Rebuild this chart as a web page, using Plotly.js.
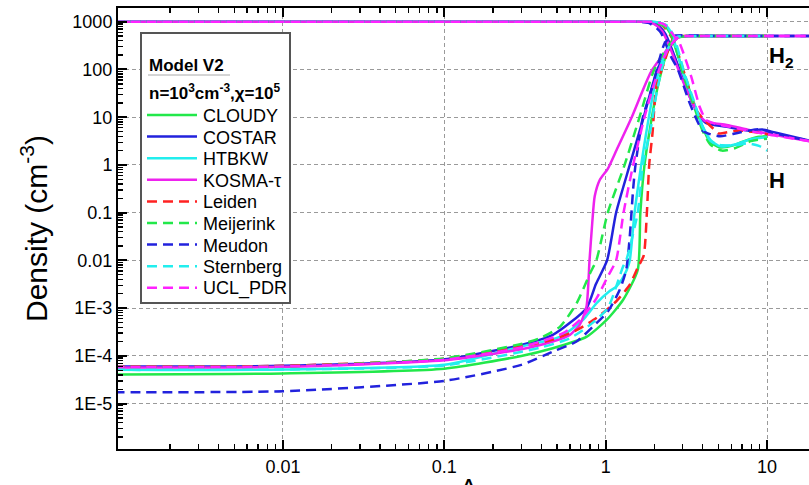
<!DOCTYPE html>
<html>
<head>
<meta charset="utf-8">
<script src="https://cdn.plot.ly/plotly-3.0.1.min.js"></script>
<style>html,body{margin:0;padding:0;overflow:hidden;background:#fff;}#chart{width:830px;height:485px;}</style>
</head>
<body>
<div id="chart"></div>
<script>
// ---------- data (Av in mag, density in cm^-3) ----------
const models = ["CLOUDY","COSTAR","HTBKW","KOSMA-τ","Leiden","Meijerink","Meudon","Sternberg","UCL_PDR"];
const colors = ["#22e84a","#2222dd","#22eeee","#ee22ee","#ff2222","#22e84a","#2222dd","#22eeee","#ff22ff"];
const dashes = ["solid","solid","solid","solid","dash","dash","dash","dash","dash"];

// H2 curves
const cloudyH2Av = [0.0009,0.01,0.1,0.3,0.47,0.76,1.01,1.28,1.58,1.64,1.74,1.86,2.09,2.4,2.75,3.16,5,10];
const cloudyH2n  = [4.1e-5,4.3e-5,5.4e-5,1.0e-4,1.45e-4,2.5e-4,5.6e-4,1.48e-3,6.3e-3,0.1,1,4.57,39.8,224,447,500,500,500];
const costarH2Av = [0.0009,0.01,0.1,0.3,0.47,0.76,0.87,1.02,1.16,1.41,1.72,2.09,2.49,2.82,3.16,5,20];
const costarH2n  = [6.0e-5,6.2e-5,8.5e-5,1.7e-4,2.75e-4,1e-3,3.2e-3,0.01,0.1,1,10,100,302,479,500,500,500];
const htbkwH2Av  = [0.0009,0.01,0.1,0.3,0.52,0.72,0.875,1.05,1.16,1.26,1.35,1.41,1.51,1.66,1.78,2.01,2.38,2.75,3.16,5,10];
const htbkwH2n   = [5.1e-5,5.2e-5,6.5e-5,1.58e-4,2.5e-4,5.6e-4,1.26e-3,2.24e-3,2.8e-3,4.0e-3,6.3e-3,0.01,0.1,1,4.57,43.6,257,479,500,500,500];
const kosmaH2Av  = [0.0009,0.01,0.1,0.3,0.47,0.6,0.69,0.76,0.794,0.826,0.855,0.92,1.03,1.17,1.45,1.91,2.49,2.82,3.16,5,20];
const kosmaH2n   = [5.75e-5,5.9e-5,8.1e-5,1.38e-4,2.0e-4,2.75e-4,4.47e-4,1.07e-3,0.01,0.063,0.22,0.49,0.83,2.09,10,89,302,468,500,500,500];
const leidenH2Av = [0.0009,0.01,0.1,0.3,0.47,0.66,0.875,1.16,1.41,1.58,1.72,1.8,1.86,1.95,2.06,2.26,2.67,3.16,5,10];
const leidenH2n  = [6.0e-5,6.2e-5,8.7e-5,1.58e-4,2.19e-4,3.47e-4,6.2e-4,1.38e-3,3.1e-3,7.1e-3,0.0126,0.1,1,4.57,43.6,115,490,500,500,500];
const meijH2Av   = [0.0009,0.01,0.1,0.3,0.39,0.52,0.66,0.8,0.875,1.03,1.31,1.62,2.0,2.51,2.82,3.16,5,10];
const meijH2n    = [5.9e-5,6.0e-5,8.9e-5,1.78e-4,2.34e-4,4.07e-4,1.26e-3,5.4e-3,0.01,0.1,1,10,100,355,479,500,500,500];
const meudonH2Av = [0.0009,0.01,0.1,0.3,0.47,0.66,0.83,1.03,1.22,1.34,1.41,1.48,1.53,1.7,1.95,2.32,2.6,5,20];
const meudonH2n  = [1.74e-5,1.82e-5,3.0e-5,6.5e-5,1.23e-4,2.0e-4,4.07e-4,8.5e-4,2.4e-3,6.3e-3,0.0316,0.316,1,10,43.6,355,500,500,500];
const sternH2Av  = [0.0009,0.01,0.1,0.39,0.6,0.8,1.03,1.28,1.34,1.58,1.7,1.91,2.09,2.4,2.75,3.16,5,10];
const sternH2n   = [5.1e-5,5.2e-5,6.3e-5,1.48e-4,2.34e-4,4.47e-4,1e-3,7.4e-3,0.01,0.1,1,6.3,39.8,251,479,500,500,500];
const uclH2Av    = [0.0009,0.01,0.1,0.3,0.545,0.69,0.875,1.03,1.16,1.29,1.48,1.74,2.04,2.45,2.82,3.16,5,20];
const uclH2n     = [5.9e-5,6.0e-5,8.3e-5,1.51e-4,3.0e-4,5.6e-4,1.58e-3,4.6e-3,0.01,0.1,1,10,63,282,479,500,500,500];

// H curves
const cloudyHAv = [0.0009,1,1.91,2.29,2.51,3.02,3.47,3.98,4.41,5.08,6.03,7.08,8.91,10];
const cloudyHn  = [1000,1000,1000,851,575,89,22.9,6.31,3.09,2.34,2.51,3.09,3.89,3.98];
const costarHAv = [0.0009,1,1.78,2.09,2.34,2.69,3.16,3.63,4.17,5.62,7.59,9.33,11.2,20];
const costarHn  = [1000,1000,1000,851,562,178,39.8,14.1,7.59,6.31,5.25,5.5,4.79,3.02];
const htbkwHAv  = [0.0009,1,2.0,2.34,2.57,3.02,3.47,3.98,4.47,5.13,6.31,7.94,10];
const htbkwHn   = [1000,1000,1000,851,550,83.2,22.9,6.61,3.31,2.45,2.69,3.47,3.8];
const kosmaHAv  = [0.0009,1,1.66,2.0,2.24,2.51,2.82,3.24,3.72,4.17,5.62,7.59,10,20];
const kosmaHn   = [1000,1000,1000,891,631,282,100,31.6,12.6,8.13,6.92,5.5,4.57,2.95];
const leidenHAv = [0.0009,1,1.86,2.24,2.6,3.16,3.63,4.17,4.68,5.01,5.37,6.76,9.55,10.5];
const leidenHn  = [1000,1000,1000,832,437,61.7,14.1,8.13,5.62,4.57,4.68,5.25,4.57,4.27];
const meijHAv   = [0.0009,1,1.91,2.29,2.57,3.02,3.47,3.98,4.47,5.25,6.31,7.94,10];
const meijHn    = [1000,1000,1000,813,500,79.4,20,5.25,2.63,2.0,2.24,3.16,3.55];
const meudonHAv = [0.0009,1,1.58,1.86,2.09,2.21,2.51,2.8,3.31,3.98,4.47,5.13,6.76,8.91,10.7,14.1,20];
const meudonHn  = [1000,1000,1000,933,708,575,200,100,20,5.25,4.37,3.98,4.79,5.62,4.79,3.8,3.16];
const sternHAv  = [0.0009,1,2.0,2.4,2.63,3.09,3.55,3.98,4.47,5.01,6.31,7.59,8.91,10];
const sternHn   = [1000,1000,1000,832,525,79.4,20,6.31,3.16,2.63,2.57,2.82,2.51,2.0];
const uclHAv    = [0.0009,1,1.91,2.29,2.63,2.87,3.39,3.82,4.2,5.01,7.08,10,20];
const uclHn     = [1000,1000,1000,891,525,355,70.8,16.6,8.7,7.08,5.5,4.37,3.02];

const h2Series = [[cloudyH2Av,cloudyH2n],[costarH2Av,costarH2n],[htbkwH2Av,htbkwH2n],[kosmaH2Av,kosmaH2n],[leidenH2Av,leidenH2n],[meijH2Av,meijH2n],[meudonH2Av,meudonH2n],[sternH2Av,sternH2n],[uclH2Av,uclH2n]];
const hSeries  = [[cloudyHAv,cloudyHn],[costarHAv,costarHn],[htbkwHAv,htbkwHn],[kosmaHAv,kosmaHn],[leidenHAv,leidenHn],[meijHAv,meijHn],[meudonHAv,meudonHn],[sternHAv,sternHn],[uclHAv,uclHn]];

const xTickVals = [0.01,0.1,1,10];
const xTickText = ["0.01","0.1","1","10"];
const yTickVals = [1000,100,10,1,0.1,0.01,1e-3,1e-4,1e-5];
const yTickText = ["1000","100","10","1","0.1","0.01","1E-3","1E-4","1E-5"];

const legendTitle1 = "<b>Model V2</b>";
const legendTitle2 = "<b>n=10<sup>3</sup>cm<sup>-3</sup>,χ=10<sup>5</sup></b>";

// ---------- build ----------
const FONT = "Liberation Sans, Arial, Helvetica, sans-serif";
const W = 830, H = 485, ML = 118, MR = 0, MT = 8, MB = 36;
const PW = W - ML - MR, PH = H - MT - MB;
const px = p => (p - ML) / PW;          // page px -> paper x
const py = p => (H - MB - p) / PH;      // page px -> paper y
function minorVals(lo, hi){ const v=[]; for(let d=lo; d<=hi; d++) for(let k=2;k<=9;k++) v.push(k*Math.pow(10,d)); return v; }
function dashStr(d){ return d === "dash" ? "10px,6px" : "solid"; }

const traces = [];
models.forEach((m,i)=>{
  traces.push({x:h2Series[i][0], y:h2Series[i][1], type:"scatter", mode:"lines", name:m+" H2",
    showlegend:false, line:{color:colors[i], width:2.5, dash:dashStr(dashes[i]), shape:"spline", smoothing:0.6}});
  traces.push({x:hSeries[i][0], y:hSeries[i][1], type:"scatter", mode:"lines", name:m+" H",
    showlegend:false, line:{color:colors[i], width:2.5, dash:dashStr(dashes[i]), shape:"spline", smoothing:0.6}});
});

const XR = [-3.022, 1.39], YR = [-5.95, 3.288];

// manual legend box
const shapes = [
  {type:"rect", xref:"paper", yref:"paper", x0:px(141), x1:px(290), y0:py(303), y1:py(33),
   fillcolor:"#fff", line:{color:"#555", width:2}},
  {type:"line", xref:"paper", yref:"paper", x0:px(148), x1:px(230), y0:py(75), y1:py(75), line:{color:"#aaa", width:1}}
];
const annotations = [
  {xref:"paper", yref:"paper", x:px(147), y:py(65), xanchor:"left", yanchor:"middle", showarrow:false,
   text:legendTitle1, font:{family:FONT, size:17, color:"#000"}},
  {xref:"paper", yref:"paper", x:px(147), y:py(92), xanchor:"left", yanchor:"middle", showarrow:false,
   text:legendTitle2, font:{family:FONT, size:17, color:"#000"}}
];
models.forEach((m,i)=>{
  const yy = 115 + i*21.6;
  shapes.push({type:"line", xref:"paper", yref:"paper", x0:px(147), x1:px(197), y0:py(yy), y1:py(yy),
    line:{color:colors[i], width:2.5, dash:dashStr(dashes[i])}});
  annotations.push({xref:"paper", yref:"paper", x:px(201), y:py(yy+1), xanchor:"left", yanchor:"middle", showarrow:false,
    text:m, font:{family:FONT, size:18, color:"#000"}});
});
annotations.push(
  {xref:"paper", yref:"paper", x:px(767), y:py(57), xanchor:"left", yanchor:"middle", showarrow:false,
   text:"<b>H<sub>2</sub></b>", font:{family:FONT, size:22, color:"#000"}},
  {xref:"paper", yref:"paper", x:px(767), y:py(180), xanchor:"left", yanchor:"middle", showarrow:false,
   text:"<b>H</b>", font:{family:FONT, size:22, color:"#000"}},
  {xref:"paper", yref:"paper", x:px(458), y:py(471), xanchor:"left", yanchor:"top", showarrow:false,
   text:"A<sub>V</sub>", font:{family:FONT, size:26, color:"#000"}}
);

const layout = {
  width:W, height:H,
  margin:{l:ML, r:MR, t:MT, b:MB},
  paper_bgcolor:"#fff", plot_bgcolor:"#fff",
  font:{family:FONT, color:"#000"},
  showlegend:false,
  xaxis:{type:"log", range:XR, tickmode:"array", tickvals:xTickVals, ticktext:xTickText,
    ticks:"inside", ticklen:9, tickwidth:2, tickcolor:"#000",
    showline:true, linecolor:"#000", linewidth:2, mirror:"ticks",
    showgrid:true, gridcolor:"#9a9a9a", gridwidth:1, griddash:"4px,3px", zeroline:false,
    tickfont:{family:FONT, size:18, color:"#000"},
    minor:{tickmode:"array", tickvals:minorVals(-4,1), ticks:"inside", ticklen:5, tickwidth:1.3, tickcolor:"#000", showgrid:false}},
  yaxis:{type:"log", range:YR, tickmode:"array", tickvals:yTickVals, ticktext:yTickText,
    ticks:"inside", ticklen:9, tickwidth:2, tickcolor:"#000",
    showline:true, linecolor:"#000", linewidth:2, mirror:"ticks",
    showgrid:true, gridcolor:"#9a9a9a", gridwidth:1, griddash:"4px,3px", zeroline:false,
    tickfont:{family:FONT, size:18, color:"#000"},
    minor:{tickmode:"array", tickvals:minorVals(-7,3), ticks:"inside", ticklen:5, tickwidth:1.3, tickcolor:"#000", showgrid:false},
    title:{text:"Density (cm<sup>-3</sup>)", font:{family:FONT, size:30, color:"#000"}, standoff:16}},
  shapes:shapes,
  annotations:annotations
};

Plotly.newPlot("chart", traces, layout, {displayModeBar:false, staticPlot:true});
</script>
</body>
</html>
